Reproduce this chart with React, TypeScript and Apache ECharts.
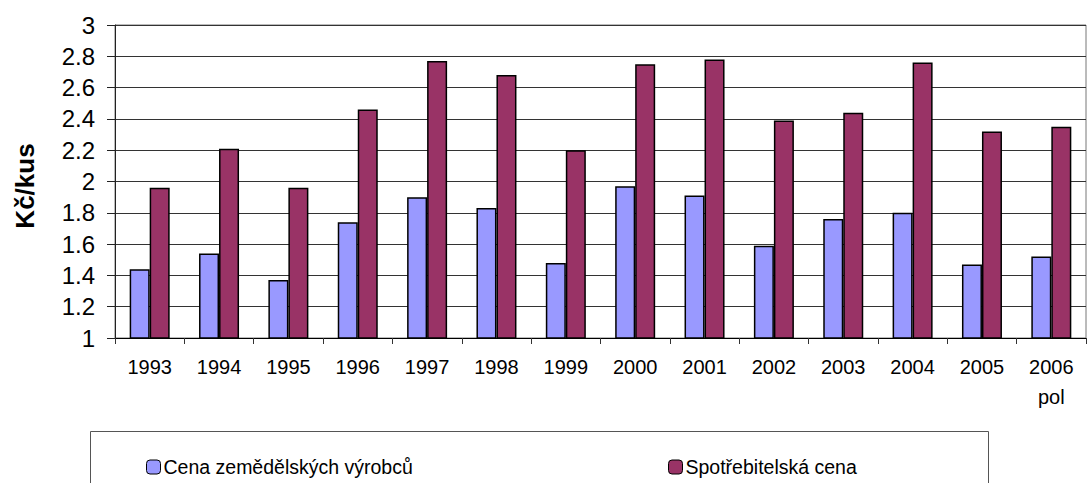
import React, { useEffect, useRef } from "react";
import * as echarts from "echarts";

const categories = ["1993", "1994", "1995", "1996", "1997", "1998", "1999", "2000", "2001", "2002", "2003", "2004", "2005", "2006\npol"];
const farmPrice = [1.44, 1.54, 1.37, 1.74, 1.9, 1.83, 1.48, 1.97, 1.91, 1.59, 1.76, 1.8, 1.47, 1.52];
const consumerPrice = [1.96, 2.21, 1.96, 2.46, 2.77, 2.68, 2.2, 2.75, 2.78, 2.39, 2.44, 2.76, 2.32, 2.35];
const seriesNames = ["Cena zemědělských výrobců", "Spotřebitelská cena"];
const yTitle = "Kč/kus";

const FONT = "'Liberation Sans', Arial, sans-serif";

export default function App() {
  const ref = useRef<HTMLDivElement>(null);
  useEffect(() => {
    if (!ref.current) return;
    const chart = echarts.init(ref.current, undefined, { renderer: "svg" });
    chart.setOption({
      animation: false,
      backgroundColor: "#fff",
      textStyle: { fontFamily: FONT, color: "#000" },
      grid: {
        left: 115,
        top: 25,
        width: 971,
        height: 313,
        show: true,
        borderColor: "#777",
        borderWidth: 1,
        backgroundColor: "transparent",
      },
      xAxis: {
        type: "category",
        data: categories,
        axisLine: { lineStyle: { color: "#000", width: 1 } },
        axisTick: { show: true, length: 6, interval: 0, alignWithLabel: false, lineStyle: { color: "#333" } },
        axisLabel: { interval: 0, margin: 14, fontSize: 20, lineHeight: 30, color: "#000", fontFamily: FONT },
        splitLine: { show: false },
      },
      yAxis: {
        type: "value",
        min: 1,
        max: 3,
        interval: 0.2,
        axisLine: { show: true, lineStyle: { color: "#222", width: 1 } },
        axisTick: { show: true, length: 8, lineStyle: { color: "#222" } },
        axisLabel: { margin: 20, fontSize: 24, color: "#000", fontFamily: FONT },
        splitLine: { show: true, lineStyle: { color: "#333", width: 1 } },
      },
      legend: [
        {
          data: [seriesNames[0]],
          left: 146,
          top: 457,
          padding: 0,
          itemWidth: 14,
          itemHeight: 14,
          itemStyle: { borderWidth: 1, borderColor: "#000" },
          textStyle: { fontSize: 19.5, color: "#000", fontFamily: FONT, padding: [0, 0, 0, -2] },
          selectedMode: false,
        },
        {
          data: [seriesNames[1]],
          left: 668,
          top: 457,
          padding: 0,
          itemWidth: 14,
          itemHeight: 14,
          itemStyle: { borderWidth: 1, borderColor: "#000" },
          textStyle: { fontSize: 19.5, color: "#000", fontFamily: FONT, padding: [0, 0, 0, -2] },
          selectedMode: false,
        },
      ],
      graphic: [
        {
          type: "rect",
          left: 88,
          top: 429,
          shape: { width: 898, height: 80 },
          style: { fill: "none", stroke: "#555", lineWidth: 1 },
          z: 1,
        },
        {
          type: "text",
          x: 25,
          y: 186,
          rotation: Math.PI / 2,
          style: {
            text: yTitle,
            fontSize: 26,
            fontWeight: "bold",
            fontFamily: FONT,
            fill: "#000",
            textAlign: "center",
            textVerticalAlign: "middle",
          },
        },
      ],
      series: [
        {
          name: seriesNames[0],
          type: "bar",
          data: farmPrice,
          barWidth: 20,
          barGap: "0%",
          itemStyle: { color: "#9999FF", borderColor: "#000", borderWidth: 1.5 },
        },
        {
          name: seriesNames[1],
          type: "bar",
          data: consumerPrice,
          barWidth: 20,
          barGap: "0%",
          itemStyle: { color: "#993366", borderColor: "#000", borderWidth: 1.5 },
        },
      ],
    });
    return () => chart.dispose();
  }, []);
  return <div ref={ref} style={{ position: "fixed", left: 0, top: 0, width: 1087, height: 483 }} />;
}
